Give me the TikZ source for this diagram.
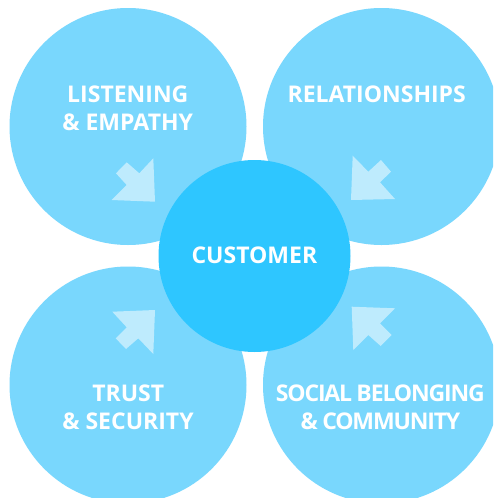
\documentclass[tikz,border=0pt]{standalone}
\usepackage{fontspec}
\setmainfont{Open Sans}
\newfontfamily\tightfont{Open Sans}[WordSpace=0.9,LetterSpace=-5]
\definecolor{discblue}{HTML}{79D7FD}
\definecolor{coreblue}{HTML}{2EC6FF}
\definecolor{arrowblue}{HTML}{BEEBFD}
\begin{document}
\begin{tikzpicture}[x=1pt,y=-1pt,
  bigdisc/.style={circle,fill=discblue,draw=none,minimum size=237pt,inner sep=0pt},
  coredisc/.style={circle,fill=coreblue,draw=none,minimum size=192pt,inner sep=0pt},
  pointer/.style={fill=arrowblue,draw=none},
  lbl/.style={anchor=base,inner sep=0pt,text=white,font=\fontsize{23}{27}\selectfont\bfseries},
  tightlbl/.style={lbl,font=\tightfont\fontsize{23}{27}\selectfont\bfseries}]
\useasboundingbox (0,0) rectangle (493,498);
\clip (0,0) rectangle (493,498);
\fill[white] (0,0) rectangle (493,498);
% four outer discs
\node[bigdisc] (tl) at (128,126.5) {};
\node[bigdisc] (tr) at (381.5,126.5) {};
\node[bigdisc] (bl) at (128,385) {};
\node[bigdisc] (br) at (381.5,385) {};
% block arrows pointing towards the core
\fill[pointer] (155,201.7) -- (153.3,158.3) -- (139.3,173.3) -- (126.7,162.3)
  -- (116,173.3) -- (126.7,185) -- (111.7,200) -- cycle;
\fill[pointer] (351,200) -- (352.7,155.7) -- (368.3,171.7) -- (381,160)
  -- (391,171.7) -- (380,182.3) -- (395,199) -- cycle;
\fill[pointer] (155,310) -- (112.3,311.7) -- (126.7,327.3) -- (115.7,338.3)
  -- (126,349) -- (138.3,338.3) -- (153.3,354) -- cycle;
\fill[pointer] (351.7,306.7) -- (395,308.3) -- (380,323.3) -- (391.7,335)
  -- (380.7,346) -- (368.3,335) -- (353.3,350) -- cycle;
% core disc
\node[coredisc] (core) at (254.5,256) {};
% labels
\node[lbl] (lis1) at (127.8,102.7) {LISTENING};
\node[lbl] (lis2) at (127.7,130) {\& EMPATHY};
\node[lbl] (rel) at (376.7,102.7) {RELATIONSHIPS};
\node[lbl] (cust) at (254.4,263.3) {CUSTOMER};
\node[lbl] (tru1) at (128.3,401.7) {TRUST};
\node[lbl] (tru2) at (128,429.3) {\& SECURITY};
\node[tightlbl] (soc1) at (380.3,401.7) {SOCIAL BELONGING};
\node[tightlbl] (soc2) at (380.5,429.3) {\& COMMUNITY};
\end{tikzpicture}
\end{document}
